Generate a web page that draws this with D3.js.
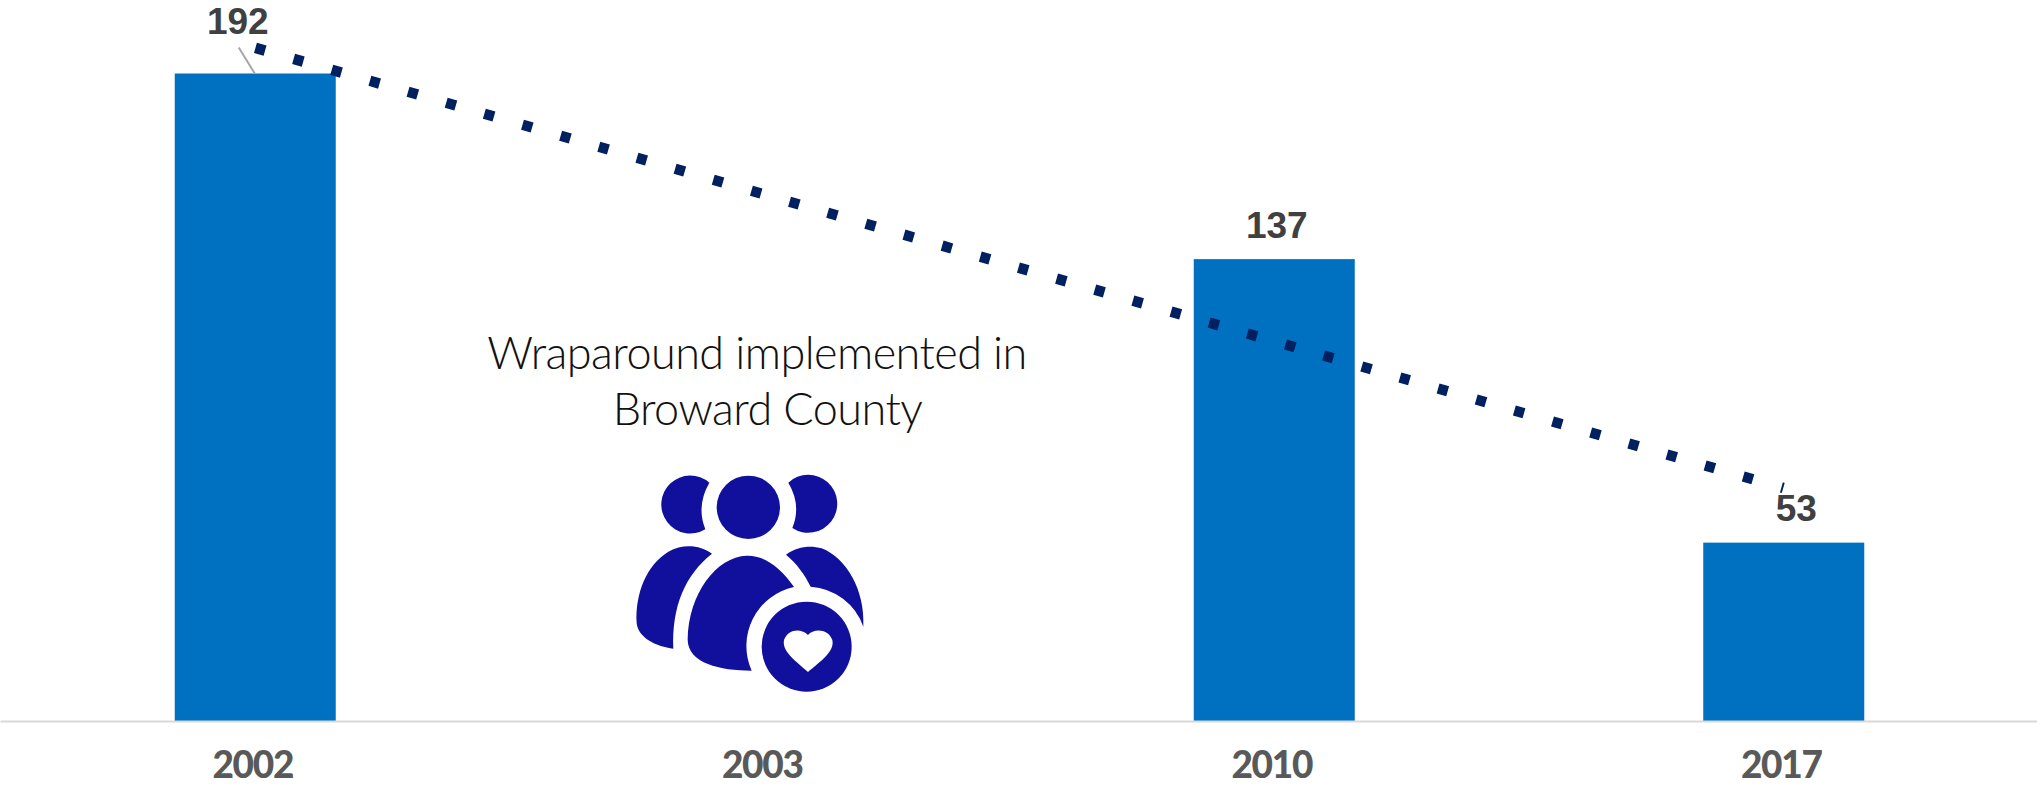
<!DOCTYPE html>
<html>
<head>
<meta charset="utf-8">
<script src="https://cdn.jsdelivr.net/npm/d3@7"></script>
<style>
  html, body { margin: 0; padding: 0; background: #fff; }
  svg { display: block; }
</style>
</head>
<body>
<script>
// Youth counts by year, with a blank slot for 2003 where the programme note sits.
const years = ["2002", "2003", "2010", "2017"];
const counts = [192, null, 137, 53];
const trendEnds = [199.6, 69.2];
const noteLines = ["Wraparound implemented in", "Broward County"];

const width = 2037, height = 789;
const baseY = 721.5, topY = 73.5;

const svg = d3.select("body").append("svg")
  .attr("width", width).attr("height", height);

const x = d3.scaleBand().domain(years).range([0, 2038])
  .paddingInner(0.684).paddingOuter(0.342);
const y = d3.scaleLinear().domain([0, 192]).range([baseY, topY]);

const rows = years.map((year, i) => ({ year, count: counts[i] }));
const filled = rows.filter(d => d.count !== null);

// Bars
svg.append("g").attr("transform", "translate(0.5,0)")
  .selectAll("rect").data(filled).join("rect")
  .attr("x", d => x(d.year))
  .attr("y", d => y(d.count))
  .attr("width", x.bandwidth())
  .attr("height", d => y(0) - y(d.count))
  .attr("fill", "#0070C0");

// Category axis
const axis = svg.append("g")
  .attr("transform", `translate(0,${baseY - 0.5})`)
  .call(d3.axisBottom(x).tickSize(0).tickPadding(31));
axis.select(".domain").attr("stroke", "#D9D9D9").attr("stroke-width", 2);
axis.selectAll("text")
  .attr("dx", -2)
  .attr("fill", "#595959")
  .attr("letter-spacing", "-1.3")
  .style("font", "900 37px Lato, sans-serif");

// Dotted linear trend from the first year to the last
const mid = d => x(d) + x.bandwidth() / 2;
svg.append("line")
  .attr("x1", mid(years[0]) + 0.7).attr("y1", y(trendEnds[0]))
  .attr("x2", mid(years[3])).attr("y2", y(trendEnds[1]))
  .attr("stroke", "#002060")
  .attr("stroke-width", 10.5)
  .attr("stroke-dasharray", "10 29.7");

// Leader from the first label down to its bar
svg.append("line")
  .attr("x1", mid("2002") - 16).attr("y1", y(192) - 26)
  .attr("x2", mid("2002")).attr("y2", y(192))
  .attr("stroke", "#A6A6A6").attr("stroke-width", 2);

// Value labels, nudged off the bars and the trend line
const labelShift = { "2002": [-17, -39.5], "2010": [3, -21], "2017": [13, -21.5] };
svg.append("g").selectAll("text").data(filled).join("text")
  .attr("x", d => mid(d.year) + labelShift[d.year][0])
  .attr("y", d => y(d.count) + labelShift[d.year][1])
  .attr("text-anchor", "middle")
  .attr("fill", "#404040")
  .style("font", "700 37px 'Liberation Sans', Arial, sans-serif")
  .text(d => d.count);

// Programme note
const noteX = [757, 767.5], noteY = [369, 425];
svg.append("g").selectAll("text").data(noteLines).join("text")
  .attr("x", (d, i) => noteX[i])
  .attr("y", (d, i) => noteY[i])
  .attr("text-anchor", "middle")
  .attr("fill", "#111")
  .attr("letter-spacing", "-0.55")
  .style("font", "300 45px Lato, sans-serif")
  .text(d => d);

// Family-with-heart pictogram
const icon = svg.append("g")
  .attr("transform", "translate(600,450) scale(0.33333)")
  .attr("fill", "#10109C");
[
  "M328 98 A87 87 0 1 0 316 238 Q288 168 328 98 Z",
  "M565 98 A87 87 0 1 1 577 234 Q605 165 565 98 Z",
  "M336 311 C300 285 250 280 205 305 C140 345 105 430 110 520 C115 565 170 590 220 596 C215 470 255 375 336 311 Z",
  "M582 411 C540 350 490 315 440 317 C350 320 265 430 263 570 C265 640 360 662 455 662 A181 181 0 0 1 582 411 Z",
  "M558 314 C590 290 630 285 665 295 C740 325 795 420 790 530 A180 180 0 0 0 632 410 C615 375 590 340 558 314 Z"
].forEach(p => icon.append("path").attr("d", p));
icon.append("circle").attr("cx", 445).attr("cy", 172).attr("r", 95);
icon.append("circle").attr("cx", 620).attr("cy", 590).attr("r", 135);
icon.append("path")
  .attr("fill", "#fff")
  .attr("d", "M624 555 C605 535 565 535 552 570 C545 605 590 635 624 666 C660 635 705 605 697 570 C685 535 640 535 624 555 Z");
</script>
</body>
</html>
